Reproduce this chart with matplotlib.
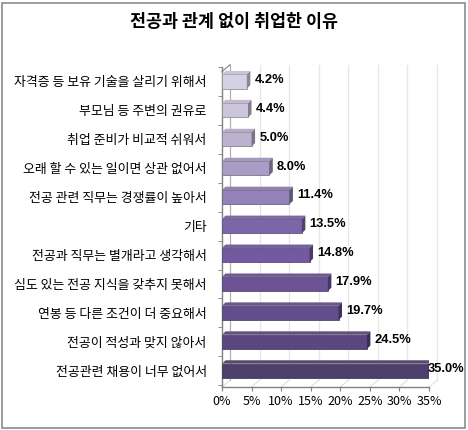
import matplotlib.pyplot as plt
from matplotlib.patches import Rectangle, Polygon
import matplotlib.transforms as mtransforms
import numpy as np

plt.rcParams["font.family"] = ["Noto Sans CJK KR", "DejaVu Sans"]

# 응답 항목 (위에서 아래 순서)
reasons = [
    "자격증 등 보유 기술을 살리기 위해서",
    "부모님 등 주변의 권유로",
    "취업 준비가 비교적 쉬워서",
    "오래 할 수 있는 일이면 상관 없어서",
    "전공 관련 직무는 경쟁률이 높아서",
    "기타",
    "전공과 직무는 별개라고 생각해서",
    "심도 있는 전공 지식을 갖추지 못해서",
    "연봉 등 다른 조건이 더 중요해서",
    "전공이 적성과 맞지 않아서",
    "전공관련 채용이 너무 없어서",
]
percent = [4.2, 4.4, 5.0, 8.0, 11.4, 13.5, 14.8, 17.9, 19.7, 24.5, 35.0]
xticks = [0, 5, 10, 15, 20, 25, 30, 35]

bar_colors = ["#d5d0e2", "#cbc4db", "#bcb2d0", "#a99cc5", "#9382b8", "#7c65a8",
              "#73599f", "#6b5396", "#634d8a", "#5a4780", "#4d3f6b"]

W, H = 468, 430
fig = plt.figure(figsize=(W / 100, H / 100), dpi=100)
fig.patch.set_facecolor("white")

# 바깥 테두리
fig.add_artist(Rectangle((2 / W, 2 / H), 463 / W, 425 / H, transform=fig.transFigure,
                         fill=False, edgecolor="#8c8c8c", linewidth=1.2))

fig.text(234 / W, 1 - 22 / H, "전공과 관계 없이 취업한 이유", ha="center", va="center",
         fontsize=12.5, fontweight="bold")

left, right, top, bottom = 222, 429, 67, 387
ax = fig.add_axes([left / W, 1 - bottom / H, (right - left) / W, (bottom - top) / H])
ax.set_facecolor("none")

n = len(percent)
pos = np.arange(n)[::-1]
xmin, xmax = 0, 35
ymin, ymax = -0.56, n - 1 + 0.34
ax.set_xlim(xmin, xmax)
ax.set_ylim(ymin, ymax)

px_x = (right - left) / (xmax - xmin)
px_y = (bottom - top) / (ymax - ymin)

# 3D 뒷벽 격자
wall = mtransforms.offset_copy(ax.transData, fig=fig, x=8, y=7, units="dots")
for t in xticks:
    col = "#b0b0b0" if t == 0 else "#e6e6e6"
    ax.plot([t, t], [ymin, ymax], color=col, lw=0.9, transform=wall, clip_on=False, zorder=0)
    ax.plot([t, t + 8 / px_x], [ymin, ymin + 7 / px_y], color="#e0e0e0", lw=0.8,
            clip_on=False, zorder=0)
ax.plot([0, 8 / px_x], [ymax, ymax + 7 / px_y], color="#909090", lw=0.9, clip_on=False)

# 3D 막대
h = 0.49
dx, dy = 3.5 / px_x, 3.5 / px_y
for p, v, c in zip(pos, percent, bar_colors):
    rgb = np.array(plt.matplotlib.colors.to_rgb(c))
    side = rgb * 0.65
    topc = np.clip(rgb * 0.85 + 0.08, 0, 1)
    ax.add_patch(Rectangle((0, p - h / 2), v, h, facecolor=c, edgecolor=side * 0.9 + 0.1,
                           lw=0.6, zorder=3))
    ax.add_patch(Polygon([(0, p + h / 2), (v, p + h / 2), (v + dx, p + h / 2 + dy),
                          (dx, p + h / 2 + dy)], closed=True, facecolor=topc,
                         edgecolor="none", zorder=3))
    ax.add_patch(Polygon([(v, p - h / 2), (v, p + h / 2), (v + dx, p + h / 2 + dy),
                          (v + dx, p - h / 2 + dy)], closed=True, facecolor=side,
                         edgecolor="none", zorder=3))
    lx = min(v + dx, 34.0)
    ax.annotate(f"{v:.1f}%", (lx, p + dy / 2), xytext=(3, 0), textcoords="offset points",
                ha="left", va="center", fontsize=9.3, fontweight="bold",
                family="Liberation Sans", zorder=5, annotation_clip=False)

for s in ["top", "right"]:
    ax.spines[s].set_visible(False)
for s in ["left", "bottom"]:
    ax.spines[s].set_color("#808080")
    ax.spines[s].set_linewidth(1.0)

ax.set_xticks(xticks)
ax.set_xticklabels([f"{t}%" for t in xticks], fontsize=9)
ax.tick_params(axis="x", length=3, color="#808080", pad=3)

ax.set_yticks(pos)
ax.set_yticklabels(reasons, fontsize=9.3)
ax.set_yticks(np.arange(-0.5, n, 1.0), minor=True)
ax.tick_params(axis="y", which="major", length=0, pad=11)
ax.tick_params(axis="y", which="minor", length=3, color="#808080")

fig.savefig("out.png", dpi=100)
